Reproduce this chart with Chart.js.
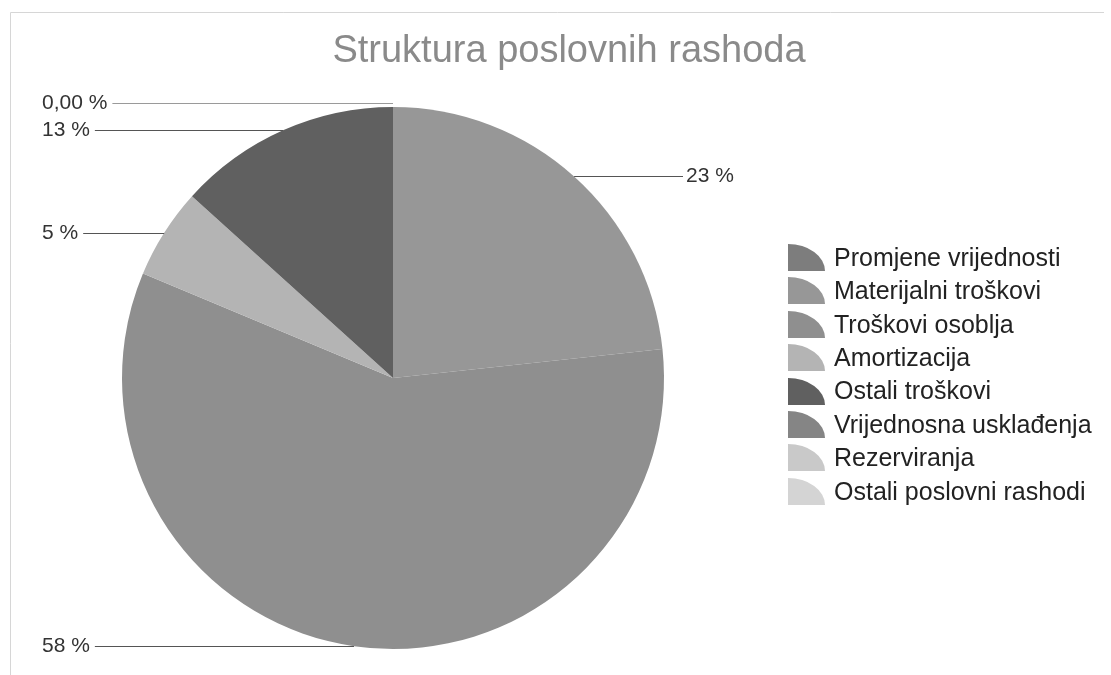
<!DOCTYPE html>
<html>
<head>
<meta charset="utf-8">
<script src="https://cdn.jsdelivr.net/npm/chart.js@4/dist/chart.umd.min.js"></script>
<style>
  html, body { margin: 0; padding: 0; background: #fff; }
  #wrap { width: 1111px; height: 675px; position: relative; }
</style>
</head>
<body>
<div id="wrap"><canvas id="myChart" width="1111" height="675"></canvas></div>
<script>
const chartTitle = "Struktura poslovnih rashoda";
const categories = [
  "Promjene vrijednosti",
  "Materijalni troškovi",
  "Troškovi osoblja",
  "Amortizacija",
  "Ostali troškovi",
  "Vrijednosna usklađenja",
  "Rezerviranja",
  "Ostali poslovni rashodi",
];
const shares = [0, 23.3, 58.0, 5.4, 13.3, 0, 0, 0];
const shareLabels = ["0,00 %", "23 %", "58 %", "5 %", "13 %", "", "", ""];
const sliceColors = ["#7d7d7d", "#979797", "#8f8f8f", "#b4b4b4", "#606060", "#858585", "#c9c9c9", "#d4d4d4"];

// quarter-circle swatch like the original legend
function makeSwatch(color) {
  let c = document.createElement("canvas");
  c.width = 37;
  c.height = 27;
  let g = c.getContext("2d");
  g.fillStyle = color;
  g.beginPath();
  g.moveTo(0, 27);
  g.lineTo(0, 0);
  g.ellipse(0, 27, 37, 27, 0, -Math.PI / 2, 0);
  g.closePath();
  g.fill();
  return c;
}

const framePlugin = {
  id: "frame",
  beforeDraw(chart) {
    let ctx = chart.ctx;
    ctx.save();
    ctx.strokeStyle = "#d6d6d6";
    ctx.lineWidth = 1;
    ctx.beginPath();
    ctx.moveTo(10.5, 675);
    ctx.lineTo(10.5, 12.5);
    ctx.lineTo(1104, 12.5);
    ctx.stroke();
    // title
    ctx.fillStyle = "#8a8a8a";
    ctx.font = "38px 'Liberation Sans', Arial, sans-serif";
    ctx.textAlign = "center";
    ctx.textBaseline = "alphabetic";
    ctx.fillText(chartTitle, 569, 62);
    ctx.restore();
  },
};

const legendPlugin = {
  id: "sideLegend",
  afterDraw(chart) {
    let ctx = chart.ctx;
    ctx.save();
    ctx.font = "25px 'Liberation Sans', Arial, sans-serif";
    ctx.fillStyle = "#222";
    ctx.textAlign = "left";
    ctx.textBaseline = "middle";
    for (let i = 0; i < categories.length; i++) {
      let y = 258 + i * 33.4;
      ctx.drawImage(makeSwatch(sliceColors[i]), 788, Math.round(y - 14));
      ctx.fillText(categories[i], 834, y + 1);
    }
    ctx.restore();
  },
};

const leaderPlugin = {
  id: "leaders",
  afterDatasetsDraw(chart) {
    let ctx = chart.ctx;
    let meta = chart.getDatasetMeta(0);
    let area = chart.chartArea;
    ctx.save();
    ctx.font = "21px 'Liberation Sans', Arial, sans-serif";
    ctx.textBaseline = "middle";
    meta.data.forEach((arc, i) => {
      let text = shareLabels[i];
      if (!text) return;
      let mid = (arc.startAngle + arc.endAngle) / 2;
      let px = arc.x + arc.outerRadius * Math.cos(mid);
      let py = arc.y + arc.outerRadius * Math.sin(mid);
      if (shares[i] === 0) py -= 4;
      py = Math.round(py) + 0.5;
      ctx.strokeStyle = shares[i] === 0 ? "#9a9a9a" : "#555";
      ctx.lineWidth = 1;
      if (px <= arc.x + 1) {
        let tx = area.left - 80;
        ctx.fillStyle = "#333";
        ctx.textAlign = "left";
        ctx.fillText(text, tx, py);
        let w = ctx.measureText(text).width;
        ctx.beginPath();
        ctx.moveTo(tx + w + 5, py);
        ctx.lineTo(px, py);
        ctx.stroke();
      } else {
        let tx = area.right + 22;
        ctx.fillStyle = "#333";
        ctx.textAlign = "left";
        ctx.fillText(text, tx, py);
        ctx.beginPath();
        ctx.moveTo(px, py);
        ctx.lineTo(tx - 3, py);
        ctx.stroke();
      }
    });
    ctx.restore();
  },
};

const ctx = document.getElementById("myChart");
const myChart = new Chart(ctx, {
  type: "pie",
  data: {
    labels: categories,
    datasets: [
      {
        data: shares,
        backgroundColor: sliceColors,
        borderWidth: 0,
      },
    ],
  },
  options: {
    responsive: false,
    animation: false,
    layout: {
      padding: { left: 122, right: 447, top: 107, bottom: 26 },
    },
    plugins: {
      legend: { display: false },
      title: { display: false },
      tooltip: { enabled: false },
    },
  },
  plugins: [framePlugin, leaderPlugin, legendPlugin],
});
</script>
</body>
</html>
